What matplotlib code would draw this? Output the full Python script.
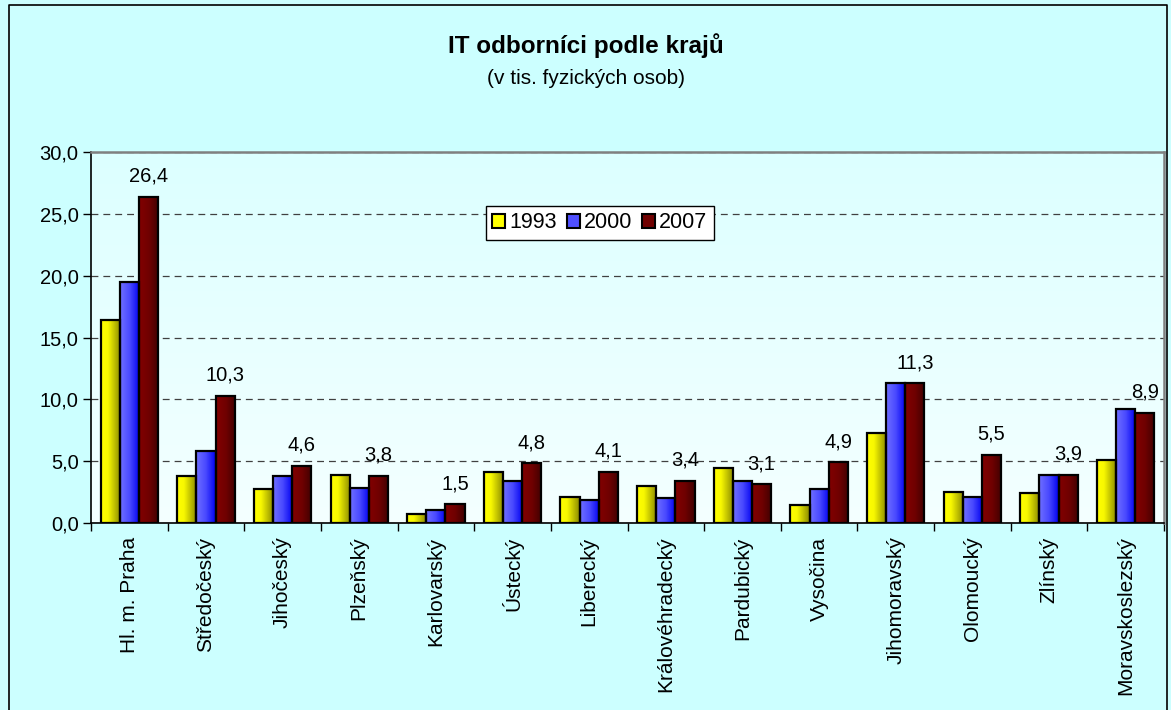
import numpy as np
import matplotlib
matplotlib.use("Agg")
import matplotlib.pyplot as plt
from matplotlib.colors import LinearSegmentedColormap
from matplotlib.lines import Line2D
from matplotlib.patches import Patch
from matplotlib.ticker import FuncFormatter, MultipleLocator, FixedLocator

regions = ["Hl. m. Praha", "Středočeský", "Jihočeský", "Plzeňský", "Karlovarský",
           "Ústecký", "Liberecký", "Královéhradecký", "Pardubický", "Vysočina",
           "Jihomoravský", "Olomoucký", "Zlínský", "Moravskoslezský"]
v1993 = [16.4, 3.8, 2.7, 3.9, 0.7, 4.1, 2.1, 3.0, 4.4, 1.4, 7.3, 2.5, 2.4, 5.1]
v2000 = [19.5, 5.8, 3.8, 2.8, 1.0, 3.4, 1.8, 2.0, 3.4, 2.7, 11.3, 2.1, 3.9, 9.2]
v2007 = [26.4, 10.3, 4.6, 3.8, 1.5, 4.8, 4.1, 3.4, 3.1, 4.9, 11.3, 5.5, 3.9, 8.9]
years = ["1993", "2000", "2007"]
title = "IT odborníci podle krajů"
subtitle = "(v tis. fyzických osob)"

plt.rcParams['font.family'] = ['Liberation Sans', 'DejaVu Sans']

W, H = 1171, 710
fig = plt.figure(figsize=(W / 100, H / 100), dpi=100, facecolor='#ccffff')

# figure frame
x0, x1, ytop = 9 / W, 1167 / W, 1 - 5 / H
fig.add_artist(Line2D([x0, x0, x1, x1], [-0.1, ytop, ytop, -0.1],
                      transform=fig.transFigure, color='black', lw=1.2))

fig.text(586 / W, 1 - 46 / H, title, ha='center', va='center',
         fontsize=17.5, fontweight='bold')
fig.text(586 / W, 1 - 78 / H, subtitle, ha='center', va='center', fontsize=15)

left, right, top, bottom = 91, 1164, 152.3, 522.7
ax = fig.add_axes([left / W, 1 - bottom / H, (right - left) / W, (bottom - top) / H])

n = len(regions)
x = np.arange(n)
ax.set_xlim(-0.5, n - 0.5)
ax.set_ylim(0, 30)

# plot-area gradient
bg = LinearSegmentedColormap.from_list('bg', ['#f4ffff', '#dcffff'])
ax.imshow(np.linspace(0, 1, 256)[:, None], extent=(-0.5, n - 0.5, 0, 30),
          origin='lower', aspect='auto', cmap=bg, zorder=0)

cmaps = [
    LinearSegmentedColormap.from_list('y', [(0, '#ffff00'), (0.35, '#f8f800'), (1, '#8a8a00')]),
    LinearSegmentedColormap.from_list('b', [(0, '#7070ff'), (0.5, '#4848ff'), (1, '#0000f0')]),
    LinearSegmentedColormap.from_list('r', [(0, '#820000'), (0.5, '#700000'), (1, '#400000')]),
]
legend_colors = ['#ffff00', '#5050ff', '#700000']
series = [v1993, v2000, v2007]
bw = 0.25
grad = np.linspace(0, 1, 64)[None, :]
for k, (vals, cm) in enumerate(zip(series, cmaps)):
    xs = x + (k - 1) * bw
    bars = ax.bar(xs, vals, width=bw, facecolor='none', edgecolor='black',
                  linewidth=1.6, zorder=3)
    for b in bars:
        bx, bwid, bh = b.get_x(), b.get_width(), b.get_height()
        ax.imshow(grad, extent=(bx, bx + bwid, 0, bh), aspect='auto',
                  cmap=cm, zorder=2.5, interpolation='bilinear')
    if k == 2:
        for xi, v in zip(xs, vals):
            ax.annotate(f"{v:.1f}".replace('.', ','), (xi, v), xytext=(0, 8),
                        textcoords='offset points', ha='center', va='bottom',
                        fontsize=14.5)

ax.set_xlim(-0.5, n - 0.5)
ax.set_ylim(0, 30)

# grid
ax.yaxis.set_major_locator(MultipleLocator(5))
ax.yaxis.set_major_formatter(FuncFormatter(lambda v, p: f"{v:.1f}".replace('.', ',')))
ax.yaxis.grid(True, color='#404040', linestyle=(0, (5.5, 4)), linewidth=0.9, zorder=1)
ax.set_axisbelow(True)

ax.xaxis.set_major_locator(FixedLocator(np.arange(-0.5, n, 1.0)))
ax.xaxis.set_major_formatter(FuncFormatter(lambda v, p: ""))
ax.xaxis.set_minor_locator(FixedLocator(x))
ax.set_xticklabels(regions, minor=True, rotation=90, va='top', ha='center', fontsize=15)
ax.tick_params(axis='x', which='minor', length=0, pad=10)
ax.tick_params(axis='x', which='major', length=6, width=1, direction='out', color='black')
ax.tick_params(axis='y', length=6, width=1, direction='out', labelsize=14.5, pad=3)

for s in ['top', 'right']:
    ax.spines[s].set_color('#808080')
    ax.spines[s].set_linewidth(1.8)
for s in ['left', 'bottom']:
    ax.spines[s].set_color('black')
    ax.spines[s].set_linewidth(1.2)

handles = [Patch(facecolor=c, edgecolor='black', linewidth=1.5) for c in legend_colors]
leg = fig.legend(handles, years, loc='upper left', bbox_to_anchor=(486 / W, 1 - 206 / H),
                 ncol=3, fontsize=15.5, frameon=True, fancybox=False, framealpha=1,
                 handlelength=0.6, handleheight=0.6, handletextpad=0.2,
                 columnspacing=0.45, borderpad=0.3, borderaxespad=0)
leg.get_frame().set_edgecolor('black')
leg.get_frame().set_linewidth(1)
leg.get_frame().set_facecolor('white')

fig.savefig('out.png', dpi=100, facecolor=fig.get_facecolor())
